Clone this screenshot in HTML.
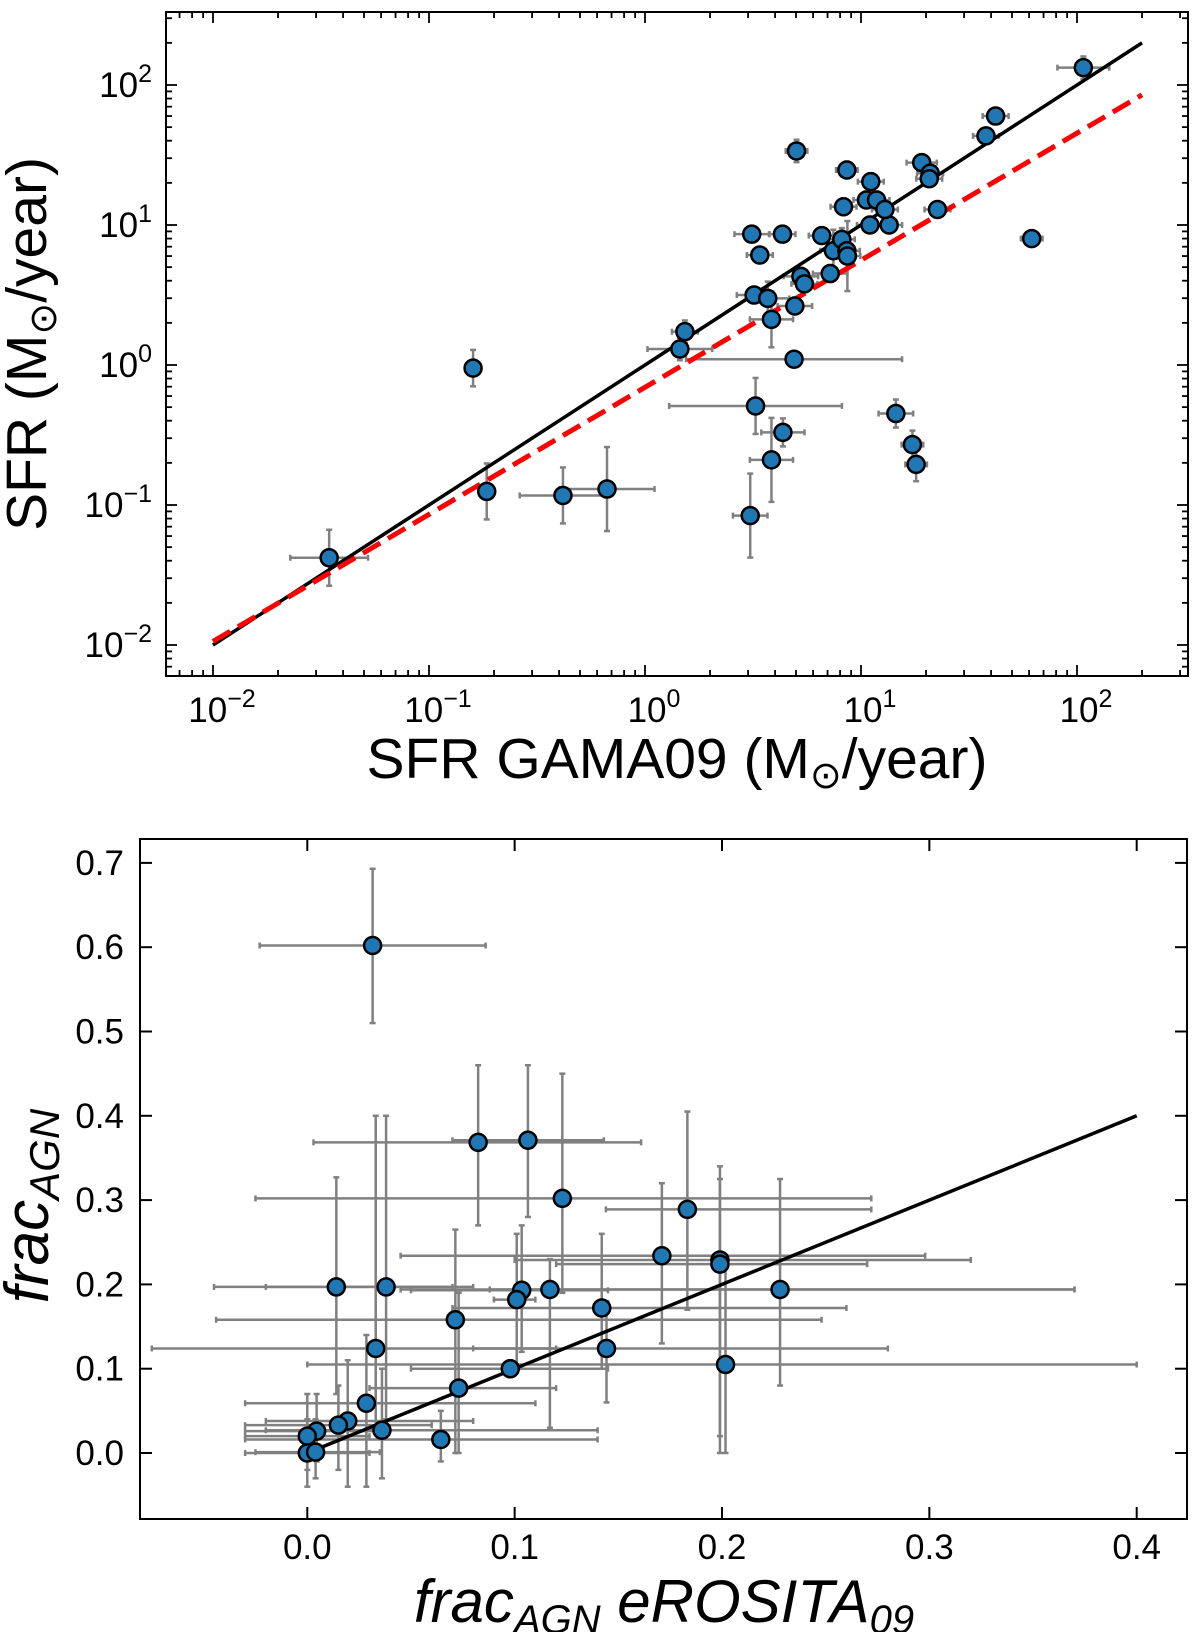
<!DOCTYPE html>
<html><head><meta charset="utf-8">
<style>
html,body{margin:0;padding:0;background:#fff;}
svg{display:block;font-family:"Liberation Sans","DejaVu Sans",sans-serif;}
</style></head>
<body>
<svg id="fig" width="1200" height="1632" viewBox="0 0 1200 1632" xmlns="http://www.w3.org/2000/svg">
<g id="top"></g>
<g id="bot"></g>
</svg>
<script>
// ---------- Top panel data (SFR, log axes) ----------
const sfrX = [0.0345,0.16,0.185,0.417,0.667,1.45,1.53,3.07,3.25,3.12,3.4,3.2,3.7,3.85,4.35,3.85,4.9,4.94,5.03,5.27,5.47,6.58,7.2,7.45,8.15,8.6,8.65,8.3,8.6,10.6,11.1,11.8,11,13.5,12.9,14.5,17.3,18,19.1,20.9,20.7,22.6,37.9,42,61.7,107,4.33];
const sfrY = [0.042,0.95,0.125,0.117,0.13,1.3,1.73,0.084,0.51,8.6,6.1,3.16,2.99,2.12,0.33,0.21,1.1,2.64,33.8,4.3,3.8,8.4,4.5,6.55,7.9,6.55,6.0,13.5,24.7,15.1,20.4,15.1,10,10,12.9,0.45,0.27,0.195,27.9,23.4,21.4,12.9,43.3,60,8.0,133,8.6];
const sfrXerr = [0.18,0.03,0.03,0.2,0.22,0.15,0.06,0.08,0.4,0.08,0.06,0.08,0.1,0.1,0.1,0.1,0.5,0.08,0.05,0.08,0.06,0.06,0.08,0.06,0.06,0.06,0.06,0.06,0.05,0.06,0.06,0.06,0.06,0.06,0.06,0.08,0.05,0.05,0.07,0.06,0.06,0.06,0.06,0.06,0.05,0.12,0.06];
const sfrYerr = [0.2,0.13,0.2,0.2,0.3,0.08,0.08,0.3,0.2,0.05,0.05,0.05,0.12,0.2,0.1,0.3,0.05,0.06,0.08,0.06,0.06,0.05,0.06,0.15,0.08,0.05,0.25,0.06,0.06,0.06,0.06,0.06,0.05,0.06,0.05,0.1,0.1,0.12,0.05,0.05,0.05,0.05,0.05,0.05,0.03,0.08,0.05];
const topXTicks = [-2,-1,0,1,2];
const topYTicks = [-2,-1,0,1,2];
const fitBlack = [[0.01,0.01],[200,200]];
const fitRed = [[0.01,0.0106],[200,85]];

// ---------- Bottom panel data (frac_AGN) ----------
const agnX = [0.0315,0.0824,0.1064,0.123,0.1833,0.171,0.199,0.199,0.014,0.038,0.1034,0.101,0.117,0.142,0.0714,0.033,0.1443,0.228,0.2017,0.0979,0.073,0.0285,0.0195,0.015,0.036,0.0644,0.0045,0.0,0.0,0.004];
const agnY = [0.602,0.3685,0.371,0.302,0.289,0.234,0.229,0.224,0.197,0.197,0.193,0.182,0.194,0.172,0.158,0.124,0.124,0.194,0.105,0.1,0.077,0.059,0.038,0.033,0.027,0.016,0.026,0.02,0.0,0.001];
const agnXlo = [-0.023,0.003,0.07,-0.025,0.144,0.045,0.1,0.12,-0.045,-0.02,0.05,0.09,0.045,0.07,-0.044,-0.075,0.08,0.088,0.0,0.05,0.03,-0.03,-0.02,-0.03,-0.02,-0.03,-0.03,-0.03,-0.03,-0.025];
const agnXhi = [0.086,0.161,0.143,0.272,0.272,0.298,0.32,0.27,0.08,0.07,0.145,0.11,0.37,0.26,0.248,0.12,0.28,0.37,0.4,0.145,0.12,0.11,0.08,0.06,0.14,0.14,0.035,0.03,0.03,0.035];
const agnYlo = [0.51,0.27,0.28,0.19,0.17,0.13,0.0,0.02,0.07,0.04,0.12,0.10,0.03,0.1,0.0,0.03,0.06,0.08,0.0,0.09,0.0,-0.04,-0.04,-0.02,-0.03,-0.01,-0.01,-0.02,-0.04,-0.03];
const agnYhi = [0.693,0.46,0.46,0.45,0.405,0.32,0.325,0.34,0.327,0.4,0.27,0.26,0.23,0.26,0.265,0.4,0.18,0.325,0.22,0.11,0.19,0.14,0.11,0.08,0.1,0.05,0.07,0.07,0.04,0.04];
const botXTicks = [0.0,0.1,0.2,0.3,0.4];
const botYTicks = [0.0,0.1,0.2,0.3,0.4,0.5,0.6,0.7];
const fitBot = [[0,0],[0.4,0.4]];

const NS = "http://www.w3.org/2000/svg";
function mk(parent, tag, attrs){
  const e = document.createElementNS(NS, tag);
  for (const k in attrs) e.setAttribute(k, attrs[k]);
  parent.appendChild(e);
  return e;
}
const GRAY = "#808080", BLUE = "#1f77b4";
const TICKFS = 35;

// ===== TOP =====
const T = {l:166, r:1188, t:12, b:676};
const tx = v => 213 + (Math.log10(v) + 2) * 216;
const ty = v => 85 - (Math.log10(v) - 2) * 140;
const gT = document.getElementById('top');

for (let i = 0; i < sfrX.length; i++) {
  const x = sfrX[i], y = sfrY[i], dx = sfrXerr[i], dy = sfrYerr[i];
  const g = mk(gT, 'g', {});
  
  
  const x1 = tx(x / Math.pow(10, dx)), x2 = tx(x * Math.pow(10, dx));
  const y1 = ty(y / Math.pow(10, dy)), y2 = ty(y * Math.pow(10, dy));
  mk(g, 'line', {x1:x1, x2:x2, y1:ty(y), y2:ty(y), stroke:GRAY, 'stroke-width':2.5});
  mk(g, 'line', {x1:tx(x), x2:tx(x), y1:y1, y2:y2, stroke:GRAY, 'stroke-width':2.5});
  [x1, x2].forEach(c => mk(g, 'line', {x1:c, x2:c, y1:ty(y)-3, y2:ty(y)+3, stroke:GRAY, 'stroke-width':2.5}));
  [y1, y2].forEach(c => mk(g, 'line', {x1:tx(x)-3, x2:tx(x)+3, y1:c, y2:c, stroke:GRAY, 'stroke-width':2.5}));
}
const lb = mk(gT, 'line', {x1:tx(fitBlack[0][0]), y1:ty(fitBlack[0][1]), x2:tx(fitBlack[1][0]), y2:ty(fitBlack[1][1]), stroke:'#000', 'stroke-width':3.5});


const lr = mk(gT, 'line', {x1:tx(fitRed[0][0]), y1:ty(fitRed[0][1]), x2:tx(fitRed[1][0]), y2:ty(fitRed[1][1]), stroke:'#ff0000', 'stroke-width':5, 'stroke-dasharray':'20,9'});


for (let i = 0; i < sfrX.length; i++) {
  const c = mk(gT, 'circle', {cx:tx(sfrX[i]), cy:ty(sfrY[i]), r:8.5, fill:BLUE, stroke:'#000', 'stroke-width':2.5});
  
  
}
const fT = mk(gT, 'rect', {x:T.l, y:T.t, width:T.r-T.l, height:T.b-T.t, fill:'none', stroke:'#000', 'stroke-width':2});


for (let d = -3; d <= 3; d++) {
  for (let m = 1; m <= 9; m++) {
    const v = m * Math.pow(10, d);
    const len = m === 1 ? 11 : 6;
    const X = tx(v), Y = ty(v);
    if (X >= T.l && X <= T.r) {
      mk(gT, 'line', {x1:X, x2:X, y1:T.b, y2:T.b-len, stroke:'#000', 'stroke-width':1.8});
      mk(gT, 'line', {x1:X, x2:X, y1:T.t, y2:T.t+len, stroke:'#000', 'stroke-width':1.8});
    }
    if (Y >= T.t && Y <= T.b) {
      mk(gT, 'line', {x1:T.l, x2:T.l+len, y1:Y, y2:Y, stroke:'#000', 'stroke-width':1.8});
      mk(gT, 'line', {x1:T.r, x2:T.r-len, y1:Y, y2:Y, stroke:'#000', 'stroke-width':1.8});
    }
  }
}
function powLabel(g, x, y, exp, anchor, name){
  const t = mk(g, 'text', {x:x, y:y, 'font-size':TICKFS, 'text-anchor':anchor, fill:'#000'});
  
  
  t.appendChild(document.createTextNode('10'));
  const s = mk(t, 'tspan', {dy:-15, 'font-size':25});
  s.textContent = exp < 0 ? '\u2212' + (-exp) : String(exp);
  return t;
}
topXTicks.forEach(e => powLabel(gT, tx(Math.pow(10, e)) + 9, 722, e, 'middle', 'x-tick-label'));
topYTicks.forEach(e => powLabel(gT, 152, ty(Math.pow(10, e)) + 12, e, 'end', 'y-tick-label'));
const xtT = mk(gT, 'text', {x:677, y:778, 'font-size':57, 'text-anchor':'middle'});


xtT.innerHTML = 'SFR GAMA09 (M<tspan font-size="38" dy="10">\u2299</tspan><tspan dy="-10">/year)</tspan>';
const ytT = mk(gT, 'text', {x:0, y:0, 'font-size':57, 'text-anchor':'middle', transform:'translate(46,344) rotate(-90)'});


ytT.innerHTML = 'SFR (M<tspan font-size="38" dy="10">\u2299</tspan><tspan dy="-10">/year)</tspan>';

// ===== BOTTOM =====
const B = {l:140, r:1187, t:839, b:1519};
const bx = v => 307.3 + v * 2073.5;
const by = v => 1453 - v * 843;
const gB = document.getElementById('bot');
for (let i = 0; i < agnX.length; i++) {
  const g = mk(gB, 'g', {});
  
  
  const X = bx(agnX[i]), Y = by(agnY[i]);
  const x1 = bx(agnXlo[i]), x2 = bx(agnXhi[i]), y1 = by(agnYlo[i]), y2 = by(agnYhi[i]);
  mk(g, 'line', {x1:x1, x2:x2, y1:Y, y2:Y, stroke:GRAY, 'stroke-width':2.5});
  mk(g, 'line', {x1:X, x2:X, y1:y1, y2:y2, stroke:GRAY, 'stroke-width':2.5});
  [x1, x2].forEach(c => mk(g, 'line', {x1:c, x2:c, y1:Y-3, y2:Y+3, stroke:GRAY, 'stroke-width':2.5}));
  [y1, y2].forEach(c => mk(g, 'line', {x1:X-3, x2:X+3, y1:c, y2:c, stroke:GRAY, 'stroke-width':2.5}));
}
const lbb = mk(gB, 'line', {x1:bx(fitBot[0][0]), y1:by(fitBot[0][1]), x2:bx(fitBot[1][0]), y2:by(fitBot[1][1]), stroke:'#000', 'stroke-width':3.5});


for (let i = 0; i < agnX.length; i++) {
  const c = mk(gB, 'circle', {cx:bx(agnX[i]), cy:by(agnY[i]), r:8.5, fill:BLUE, stroke:'#000', 'stroke-width':2.5});
  
  
}
const fB = mk(gB, 'rect', {x:B.l, y:B.t, width:B.r-B.l, height:B.b-B.t, fill:'none', stroke:'#000', 'stroke-width':2});


botXTicks.forEach(v => {
  const X = bx(v);
  mk(gB, 'line', {x1:X, x2:X, y1:B.b, y2:B.b-12, stroke:'#000', 'stroke-width':2});
  mk(gB, 'line', {x1:X, x2:X, y1:B.t, y2:B.t+12, stroke:'#000', 'stroke-width':2});
  const t = mk(gB, 'text', {x:X, y:1559, 'font-size':TICKFS, 'text-anchor':'middle'});
  
  
  t.textContent = v.toFixed(1);
});
botYTicks.forEach(v => {
  const Y = by(v);
  mk(gB, 'line', {x1:B.l, x2:B.l+12, y1:Y, y2:Y, stroke:'#000', 'stroke-width':2});
  mk(gB, 'line', {x1:B.r, x2:B.r-12, y1:Y, y2:Y, stroke:'#000', 'stroke-width':2});
  const t = mk(gB, 'text', {x:124, y:Y+12, 'font-size':TICKFS, 'text-anchor':'end'});
  
  
  t.textContent = v.toFixed(1);
});
const xtB = mk(gB, 'text', {x:664, y:1622, 'font-size':60, 'text-anchor':'middle', 'font-style':'italic'});


xtB.innerHTML = 'frac<tspan font-size="40" dy="11">AGN</tspan><tspan dy="-11"> eROSITA</tspan><tspan font-size="40" dy="11">09</tspan>';
const ytB = mk(gB, 'text', {x:0, y:0, 'font-size':62, 'text-anchor':'middle', 'font-style':'italic', transform:'translate(48,1206) rotate(-90)'});


ytB.innerHTML = 'frac<tspan font-size="42" dy="11">AGN</tspan>';
</script>
</body></html>
